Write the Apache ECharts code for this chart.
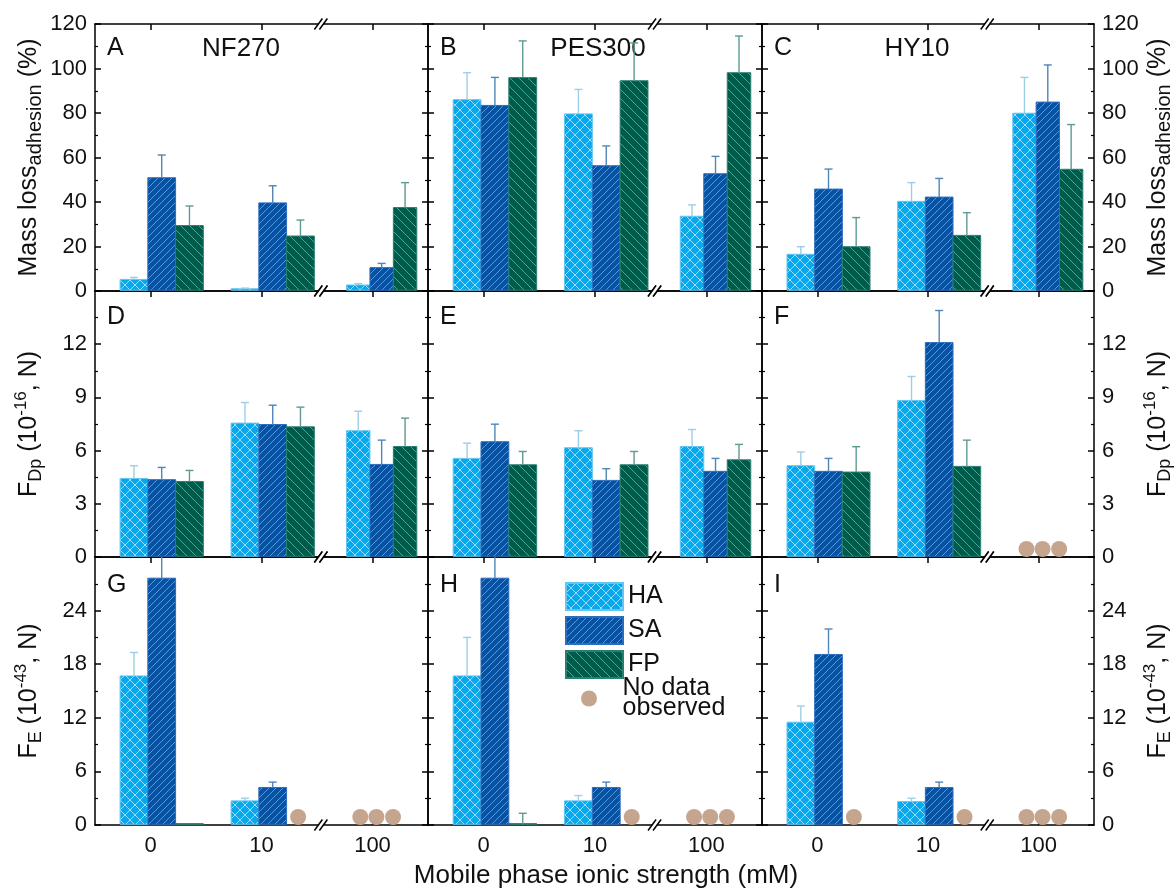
<!DOCTYPE html>
<html>
<head>
<meta charset="utf-8">
<script src="https://cdn.jsdelivr.net/npm/echarts@6/dist/echarts.min.js"></script>
<style>
  html, body { margin: 0; padding: 0; background: #fff; }
  #chart { width: 1175px; height: 888px; }
</style>
</head>
<body>
<div id="chart"></div>
<script>
// x categories: mobile phase ionic strength (mM)
const categories = ['0', '10', '100'];
const groups = ['HA', 'SA', 'FP'];
const membranes = ['NF270', 'PES300', 'HY10'];
const panelLetters = ['A', 'B', 'C', 'D', 'E', 'F', 'G', 'H', 'I'];

// each array: rows = HA, SA, FP ; columns = 0, 10, 100 mM ; null = no data observed
// row 1: mass loss adhesion (%)
const massNF270 = [[5.2, 1.0, 2.7], [50.9, 39.6, 10.5], [29.4, 24.7, 37.5]];
const massNF270Err = [[0.9, 0.3, 0.6], [10.2, 7.7, 1.9], [8.8, 7.2, 11.2]];
const massPES300 = [[86.0, 79.6, 33.6], [83.4, 56.3, 52.7], [95.9, 94.5, 98.1]];
const massPES300Err = [[12.1, 11.0, 5.1], [12.6, 8.9, 7.8], [16.5, 17.0, 16.5]];
const massHY10 = [[16.5, 40.3, 79.9], [45.8, 42.2, 84.9], [19.9, 25.0, 54.7]];
const massHY10Err = [[3.4, 8.4, 16.1], [9.0, 8.4, 16.7], [13.1, 10.2, 20.1]];

// row 2: F_Dp (1e-16 N)
const fdpNF270 = [[4.43, 7.55, 7.12], [4.36, 7.47, 5.22], [4.26, 7.34, 6.23]];
const fdpNF270Err = [[0.72, 1.16, 1.10], [0.69, 1.09, 1.37], [0.62, 1.11, 1.60]];
const fdpPES300 = [[5.56, 6.16, 6.23], [6.50, 4.32, 4.83], [5.20, 5.20, 5.48]];
const fdpPES300Err = [[0.86, 0.96, 0.96], [0.99, 0.66, 0.73], [0.75, 0.75, 0.87]];
const fdpHY10 = [[5.15, 8.83, null], [4.83, 12.09, null], [4.79, 5.11, null]];
const fdpHY10Err = [[0.77, 1.35, null], [0.73, 1.81, null], [1.43, 1.48, null]];

// row 3: F_E (1e-43 N)
const feNF270 = [[16.69, 2.70, null], [27.63, 4.20, null], [0.1, null, null]];
const feNF270Err = [[2.62, 0.30, null], [3.5, 0.60, null], [0, null, null]];
const fePES300 = [[16.69, 2.70, null], [27.63, 4.20, null], [0.05, null, null]];
const fePES300Err = [[4.31, 0.60, null], [3.5, 0.60, null], [1.26, null, null]];
const feHY10 = [[11.51, 2.62, null], [19.09, 4.20, null], [null, null, null]];
const feHY10Err = [[1.80, 0.38, null], [2.85, 0.60, null], [null, null, null]];

const panelMeans = [massNF270, massPES300, massHY10, fdpNF270, fdpPES300, fdpHY10, feNF270, fePES300, feHY10];
const panelErrs = [massNF270Err, massPES300Err, massHY10Err, fdpNF270Err, fdpPES300Err, fdpHY10Err, feNF270Err, fePES300Err, feHY10Err];

const yMax = [120, 15, 30];
const yStep = [20, 3, 6];

// ---- layout / style ----
const FONT = "'Liberation Sans', Arial, sans-serif";
const COLS = [95, 428, 762, 1094];
const ROWS = [24, 291, 557, 825];
const BAR_START = [-0.274, -0.274, -0.234]; // fraction of band, per category
const BAR_W = [0.25, 0.25, 0.211];
const NODATA_TIGHT = [-0.11, 0.035, 0.185];
const NODATA_SLOT = 0.33;
const BREAK_AT = 0.535;
const LETTER_DY = [12, 14, 16];
const TITLE_X = [241, 598, 917];

function makePattern(bg, line, size, dirs) {
  const c = document.createElement('canvas');
  c.width = size; c.height = size;
  const g = c.getContext('2d');
  g.fillStyle = bg; g.fillRect(0, 0, size, size);
  g.strokeStyle = line; g.lineWidth = 1;
  dirs.forEach(d => {
    for (let k = -1; k <= 1; k++) {
      g.beginPath();
      if (d === '/') { g.moveTo(k * size, size); g.lineTo(k * size + size, 0); }
      else { g.moveTo(k * size, 0); g.lineTo(k * size + size, size); }
      g.stroke();
    }
  });
  return { image: c, repeat: 'repeat' };
}

const FILLS = [
  makePattern('#09a7ec', 'rgba(205,238,255,0.75)', 10, ['/', '\\']),
  makePattern('#0652a3', 'rgba(105,165,235,0.85)', 7, ['/']),
  makePattern('#005b4b', 'rgba(70,178,160,0.9)', 9, ['\\'])
];
const EDGES = ['#63c6f0', '#2c6cbc', '#2a7f70'];
const ERRC = ['#9ccfe6', '#4f86b8', '#5f9a92'];
const NODATA_COLOR = '#c6a58e';

const yNames = [
  '{m|Mass loss}{a|adhesion}{m| (%)}',
  '{m|F}{s|Dp}{m| (10}{u|-16}{m|, N)}',
  '{m|F}{s|E}{m| (10}{u|-43}{m|, N)}'
];
const nameRich = {
  m: { fontSize: 25, lineHeight: 32, verticalAlign: 'middle', fontFamily: FONT, color: '#111' },
  a: { fontSize: 20, lineHeight: 20, verticalAlign: 'bottom', fontFamily: FONT, color: '#111' },
  s: { fontSize: 18, lineHeight: 18, verticalAlign: 'bottom', fontFamily: FONT, color: '#111' },
  u: { fontSize: 17, lineHeight: 17, verticalAlign: 'top', fontFamily: FONT, color: '#111' }
};

const axisLineStyle = { color: '#000', width: 1.5 };

const grid = [], xAxis = [], yAxis = [], series = [];

for (let r = 0; r < 3; r++) {
  for (let c = 0; c < 3; c++) {
    const idx = r * 3 + c;
    grid.push({
      left: COLS[c], top: ROWS[r],
      width: COLS[c + 1] - COLS[c], height: ROWS[r + 1] - ROWS[r],
      containLabel: false, outerBoundsMode: 'none'
    });
    ['bottom', 'top'].forEach(pos => {
      xAxis.push({
        type: 'category', gridIndex: idx, position: pos, data: categories, boundaryGap: true,
        axisLine: { show: true, onZero: false, lineStyle: axisLineStyle },
        axisTick: { show: true, inside: true, alignWithLabel: true, length: 6, lineStyle: axisLineStyle },
        axisLabel: { show: pos === 'bottom' && r === 2, fontSize: 22, margin: 10, color: '#111', fontFamily: FONT },
        splitLine: { show: false }
      });
    });
    ['left', 'right'].forEach(pos => {
      const labelled = (pos === 'left' && c === 0) || (pos === 'right' && c === 2);
      yAxis.push({
        type: 'value', gridIndex: idx, position: pos, min: 0, max: yMax[r], interval: yStep[r],
        axisLine: { show: true, onZero: false, lineStyle: axisLineStyle },
        axisTick: { show: true, inside: true, length: 6, lineStyle: axisLineStyle },
        minorTick: { show: true, splitNumber: 2, length: 3, lineStyle: { color: '#000', width: 1.2 } },
        splitLine: { show: false }, minorSplitLine: { show: false },
        axisLabel: { show: labelled, showMaxLabel: r === 0, fontSize: 22, margin: 8, color: '#111', fontFamily: FONT },
        name: labelled ? yNames[r] : '',
        nameLocation: 'middle', nameRotate: 90,
        nameGap: pos === 'left' ? 50 : 48,
        nameMoveOverlap: false,
        nameTextStyle: { rich: nameRich }
      });
    });

    const means = panelMeans[idx], errs = panelErrs[idx];
    const xi = idx * 2, yi = idx * 2;

    groups.forEach((gname, gi) => {
      const data = [];
      means[gi].forEach((v, ci) => { if (v !== null) data.push([ci, v, errs[gi][ci]]); });
      series.push({
        type: 'custom', name: gname, xAxisIndex: xi, yAxisIndex: yi, clip: true,
        itemStyle: { color: FILLS[gi], borderColor: EDGES[gi], borderWidth: 1 },
        data,
        renderItem(params, api) {
          const ci = api.value(0), v = api.value(1), e = api.value(2);
          const base = api.coord([ci, 0]);
          const top = api.coord([ci, v]);
          const band = api.size([1, 0])[0];
          const w = BAR_W[ci] * band;
          const x0 = base[0] + BAR_START[ci] * band + gi * w;
          const cx = x0 + w / 2;
          const h = Math.max(base[1] - top[1] - 0.75, 0.6);
          const children = [{
            type: 'rect', shape: { x: x0, y: base[1] - 0.75 - h, width: w, height: h },
            style: { fill: FILLS[gi], stroke: EDGES[gi], lineWidth: 1 }
          }];
          if (e > 0) {
            const et = api.coord([ci, v + e])[1];
            children.push({ type: 'line', shape: { x1: cx, y1: top[1], x2: cx, y2: et }, style: { stroke: ERRC[gi], lineWidth: 1.4 } });
            children.push({ type: 'line', shape: { x1: cx - 4, y1: et, x2: cx + 4, y2: et }, style: { stroke: ERRC[gi], lineWidth: 1.4 } });
          }
          return { type: 'group', children };
        }
      });
    });

    // "no data observed" markers
    const nd = [];
    categories.forEach((cat, ci) => {
      const missing = [0, 1, 2].filter(gi => means[gi][ci] === null);
      missing.forEach(gi => nd.push([ci, 0, gi, missing.length]));
    });
    series.push({
      type: 'custom', name: 'No data observed', xAxisIndex: xi, yAxisIndex: yi, clip: false,
      itemStyle: { color: NODATA_COLOR }, z: 4,
      data: nd,
      renderItem(params, api) {
        const ci = api.value(0), gi = api.value(2), cnt = api.value(3);
        const base = api.coord([ci, 0]);
        const band = api.size([1, 0])[0];
        const off = cnt === 3 ? NODATA_TIGHT[gi] : NODATA_SLOT;
        return { type: 'circle', shape: { cx: base[0] + off * band, cy: base[1] - 8, r: 8 }, style: { fill: NODATA_COLOR } };
      }
    });

    // axis break marks between 10 and 100
    series.push({
      type: 'custom', xAxisIndex: xi, yAxisIndex: yi, clip: false, silent: true, z: 10,
      data: [[0]],
      renderItem(params, api) {
        const a = api.coord([1, 0])[0], b = api.coord([2, 0])[0];
        const x = a + BREAK_AT * (b - a);
        const cs = params.coordSys;
        const kids = [];
        [cs.y, cs.y + cs.height].forEach(y => {
          const xa = x - 2.5, xb = x + 2.5;
          kids.push({ type: 'polygon', shape: { points: [[xa - 4, y + 5.5], [xa + 4, y - 5.5], [xb + 4, y - 5.5], [xb - 4, y + 5.5]] }, style: { fill: '#fff' } });
          kids.push({ type: 'line', shape: { x1: xa - 4, y1: y + 5.5, x2: xa + 4, y2: y - 5.5 }, style: { stroke: '#000', lineWidth: 1.5 } });
          kids.push({ type: 'line', shape: { x1: xb - 4, y1: y + 5.5, x2: xb + 4, y2: y - 5.5 }, style: { stroke: '#000', lineWidth: 1.5 } });
        });
        return { type: 'group', children: kids };
      }
    });
  }
}

const graphic = [];
panelLetters.forEach((L, i) => {
  const r = Math.floor(i / 3), c = i % 3;
  graphic.push({
    type: 'text', x: COLS[c] + 12, y: ROWS[r] + LETTER_DY[r], silent: true,
    style: { text: L, fontSize: 25, fontFamily: FONT, fill: '#111', textAlign: 'left', textVerticalAlign: 'top', align: 'left', verticalAlign: 'top' }
  });
});
membranes.forEach((m, c) => {
  graphic.push({
    type: 'text', x: TITLE_X[c], y: ROWS[0] + LETTER_DY[0], silent: true,
    style: { text: m, fontSize: 26, fontFamily: FONT, fill: '#111', textAlign: 'center', textVerticalAlign: 'top', align: 'center', verticalAlign: 'top' }
  });
});
graphic.push({
  type: 'text', x: 606, y: 876, silent: true,
  style: { text: 'Mobile phase ionic strength (mM)', fontSize: 26, fontFamily: FONT, fill: '#111', textAlign: 'center', textVerticalAlign: 'middle', align: 'center', verticalAlign: 'middle' }
});

const chart = echarts.init(document.getElementById('chart'), null, { renderer: 'canvas' });
chart.setOption({
  animation: false,
  backgroundColor: '#fff',
  grid, xAxis, yAxis, series, graphic,
  legend: [
    {
      data: groups, orient: 'vertical', left: 560, top: 577, icon: 'rect',
      itemWidth: 57, itemHeight: 27, itemGap: 5, selectedMode: false,
      textStyle: { fontSize: 25, fontFamily: FONT, color: '#111' }
    },
    {
      data: ['No data observed'], orient: 'vertical', left: 576, top: 671, icon: 'circle',
      itemWidth: 57, itemHeight: 16, selectedMode: false,
      formatter: () => 'No data\nobserved',
      textStyle: { fontSize: 25, lineHeight: 20, fontFamily: FONT, color: '#111' }
    }
  ]
});
</script>
</body>
</html>
